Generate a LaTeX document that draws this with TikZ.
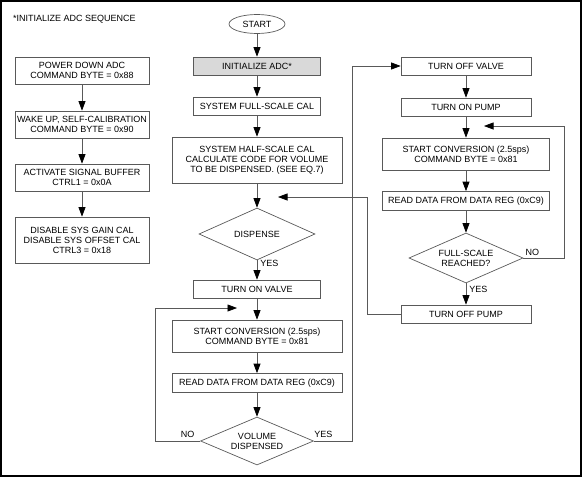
\documentclass[tikz,border=0pt]{standalone}
\usepackage{fontspec}
\setmainfont{Liberation Sans}
\usepackage{xcolor}
\usetikzlibrary{shapes.geometric,arrows.meta}
\definecolor{linegray}{gray}{0.35}
\definecolor{boxfill}{gray}{0.85}

\begin{document}
\begin{tikzpicture}[x=1pt,y=-1pt,
  font=\fontsize{9}{10}\selectfont,
  every node/.style={align=center,inner sep=0pt},
  box/.style={draw=linegray,line width=0.7pt,rectangle,minimum height=18pt},
  decision/.style={draw=linegray,line width=0.7pt,diamond,aspect=2.3},
  flow/.style={draw=linegray,line width=0.7pt,-{Triangle[length=9.5pt,width=7pt,color=black]}}]
  \useasboundingbox (0,0) rectangle (582,477);
  \draw[line width=1.6pt] (0.8,0.8) rectangle (581.2,476.2);

  \node[anchor=west] (title) at (13,19) {*INITIALIZE ADC SEQUENCE};
  \node[box,minimum width=134pt,minimum height=27pt] (pwrdn) at (82,70.5) {POWER DOWN ADC\\COMMAND BYTE = 0x88};
  \node[box,minimum width=134pt,minimum height=27pt] (wakeup) at (82,124.5) {WAKE UP, SELF-CALIBRATION\\COMMAND BYTE = 0x90};
  \node[box,minimum width=134pt,minimum height=27pt] (sigbuf) at (82,177.5) {ACTIVATE SIGNAL BUFFER\\CTRL1 = 0x0A};
  \node[box,minimum width=134pt,minimum height=46pt] (syscal) at (82,240) {DISABLE SYS GAIN CAL\\DISABLE SYS OFFSET CAL\\CTRL3 = 0x18};

  \node[draw=linegray,line width=0.7pt,ellipse,minimum width=56pt,minimum height=19pt] (start) at (257,24) {START};
  \node[box,fill=boxfill,minimum width=127pt] (initadc) at (257,66) {INITIALIZE ADC*};
  \node[box,minimum width=127pt] (fullcal) at (257,106) {SYSTEM FULL-SCALE CAL};
  \node[box,minimum width=170pt,minimum height=46pt] (halfcal) at (257,160) {SYSTEM HALF-SCALE CAL\\CALCULATE CODE FOR VOLUME\\TO BE DISPENSED. (SEE EQ.7)};
  \node[decision,minimum width=116pt,minimum height=52pt] (dispense) at (257,234) {DISPENSE};
  \node[box,minimum width=127pt] (valveon) at (257,289) {TURN ON VALVE};
  \node[box,minimum width=170pt,minimum height=32pt] (conv1) at (257,336) {START CONVERSION (2.5sps)\\COMMAND BYTE = 0x81};
  \node[box,minimum width=170pt,minimum height=19pt] (read1) at (257,383) {READ DATA FROM DATA REG (0xC9)};
  \node[decision,minimum width=113pt,minimum height=48pt] (volume) at (257,441) {VOLUME\\DISPENSED};

  \node[box,minimum width=130pt] (valveoff) at (466,66) {TURN OFF VALVE};
  \node[box,minimum width=130pt] (pumpon) at (466,107) {TURN ON PUMP};
  \node[box,minimum width=167pt,minimum height=32pt] (conv2) at (466,154) {START CONVERSION (2.5sps)\\COMMAND BYTE = 0x81};
  \node[box,minimum width=167pt,minimum height=19pt] (read2) at (466,201) {READ DATA FROM DATA REG (0xC9)};
  \node[decision,minimum width=114pt,minimum height=50pt] (fullscale) at (466,258) {FULL-SCALE\\REACHED?};
  \node[box,minimum width=130pt] (pumpoff) at (466,314) {TURN OFF PUMP};

  \coordinate (backA) at (237,308);
  \coordinate (backB) at (484,126);
  \coordinate (backC) at (278,197);

  \path[flow]
    (pwrdn) edge (wakeup)
    (wakeup) edge (sigbuf)
    (sigbuf) edge (syscal)
    (start) edge (initadc)
    (initadc) edge (fullcal)
    (fullcal) edge (halfcal)
    (halfcal) edge (dispense)
    (dispense) edge node [pos=0.15,anchor=west,xshift=3pt] {YES} (valveon)
    (valveon) edge (conv1)
    (conv1) edge (read1)
    (read1) edge (volume)
    (valveoff) edge (pumpon)
    (pumpon) edge (conv2)
    (conv2) edge (read2)
    (read2) edge (fullscale)
    (fullscale) edge node [pos=0.27,anchor=west,xshift=3pt] {YES} (pumpoff)
    ;
  \draw[flow] (volume.west) -- node [above=3.5pt,pos=0.28] {NO} ++(-45,0) |- (backA);
  \draw[flow] (volume.east) -- node [above=3.5pt,pos=0.25] {YES} ++(38.5,0) |- (valveoff.west);
  \draw[flow] (fullscale.east) -- node [above=2.5pt,pos=0.22] {NO} ++(41,0) |- (backB);
  \draw[flow] (pumpoff.west) -- ++(-33,0) |- (backC);
\end{tikzpicture}
\end{document}
